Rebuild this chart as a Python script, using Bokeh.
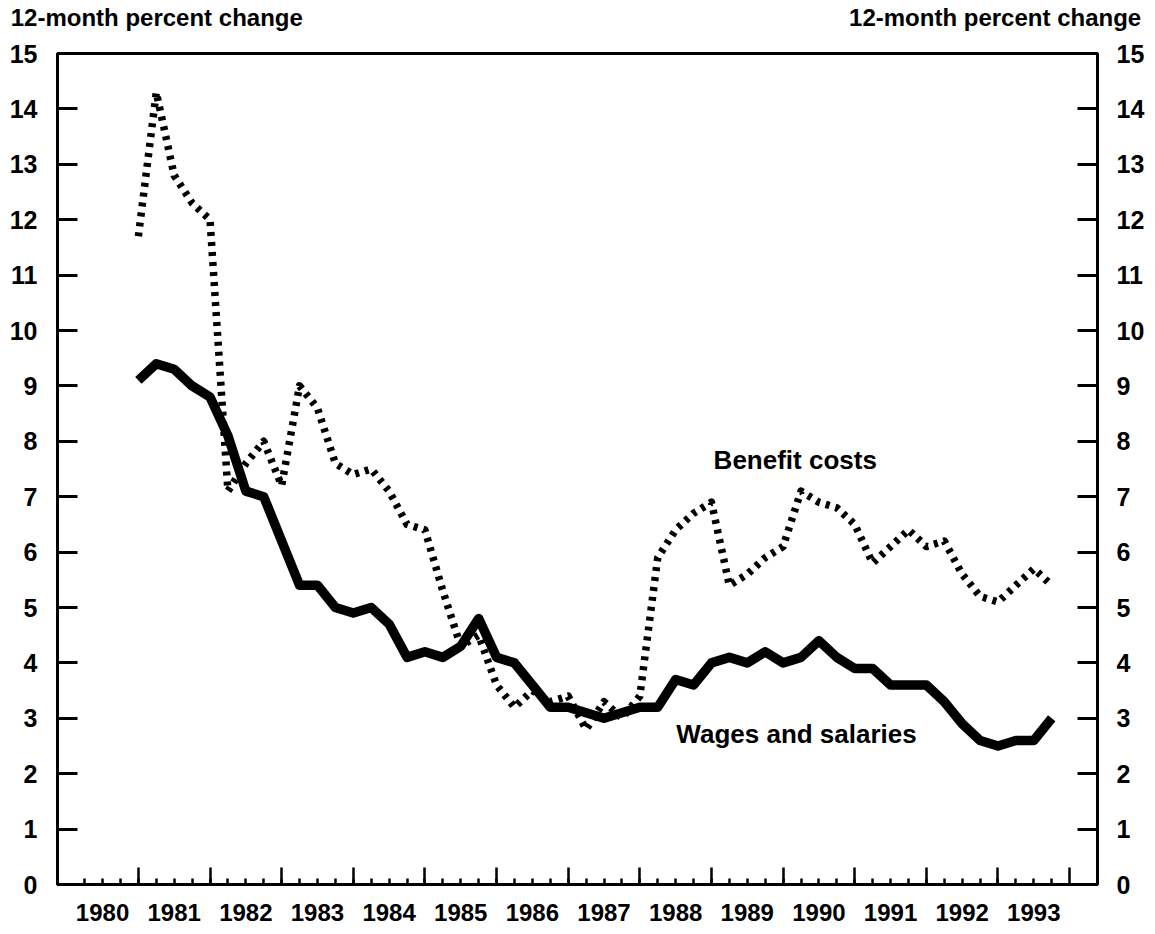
import pandas as pd
from bokeh.plotting import figure
from bokeh.models import (FixedTicker, LinearAxis, Range1d, Label)
from bokeh.embed import file_html
from bokeh.resources import INLINE

# ---- data (12-month percent change, quarterly, Dec 1980 - Sep 1993) ----
periods = pd.period_range("1980Q4", "1993Q3", freq="Q")
wages = [9.1, 9.4, 9.3, 9.0, 8.8, 8.1, 7.1, 7.0, 6.2, 5.4,
         5.4, 5.0, 4.9, 5.0, 4.7, 4.1, 4.2, 4.1, 4.3, 4.8,
         4.1, 4.0, 3.6, 3.2, 3.2, 3.1, 3.0, 3.1, 3.2, 3.2,
         3.7, 3.6, 4.0, 4.1, 4.0, 4.2, 4.0, 4.1, 4.4, 4.1,
         3.9, 3.9, 3.6, 3.6, 3.6, 3.3, 2.9, 2.6, 2.5, 2.6,
         2.6, 3.0]
benefits = [11.7, 14.3, 12.8, 12.3, 12.0, 7.1, 7.6, 8.0, 7.2, 9.0,
            8.6, 7.6, 7.4, 7.5, 7.1, 6.5, 6.4, 5.3, 4.3, 4.5,
            3.6, 3.2, 3.5, 3.3, 3.4, 2.8, 3.3, 3.0, 3.4, 5.9,
            6.4, 6.7, 6.9, 5.4, 5.6, 5.9, 6.1, 7.1, 6.9, 6.8,
            6.5, 5.8, 6.1, 6.4, 6.1, 6.2, 5.6, 5.2, 5.1, 5.4,
            5.7, 5.4]
years = list(range(1980, 1994))
y_ticks = list(range(0, 16))

# quarter-end position on a continuous year axis (Dec 1980 -> 1981.0)
x = [p.year + p.quarter * 0.25 for p in periods]

FONT = "Liberation Sans"
TITLE = "12-month percent change"

p = figure(width=1147, height=926, output_backend="svg", toolbar_location=None,
           x_range=Range1d(1979.871, 1994.389), y_range=Range1d(0, 15),
           min_border_left=57, min_border_right=48, min_border_top=51,
           min_border_bottom=42, y_axis_location=None)
p.xgrid.visible = False
p.ygrid.visible = False
p.outline_line_color = "black"
p.outline_line_width = 3
p.background_fill_color = "white"
p.border_fill_color = "white"

# ---- lines ----
p.line(x, benefits, line_color="black", line_width=7.5, line_dash="4 6",
       line_cap="butt", line_join="round")
p.line(x, wages, line_color="black", line_width=9.5, line_join="round")

# ---- x axis: year-boundary ticks + quarter minor ticks ----
xa = p.xaxis[0]
boundaries = [y + 1 for y in years]
xa.ticker = FixedTicker(ticks=boundaries,
                        minor_ticks=[y + q * 0.25 for y in years for q in (1, 2, 3, 4) if y + q * 0.25 < 1994])
xa.major_label_overrides = {b: "" for b in boundaries}
xa.major_tick_in = 17
xa.major_tick_out = 0
xa.minor_tick_in = 6
xa.minor_tick_out = 0
xa.major_tick_line_width = 2.5
xa.minor_tick_line_width = 2.5
xa.axis_line_width = 3
xa.major_label_text_font_size = "1px"
xa.major_label_standoff = 0

xl = LinearAxis(ticker=FixedTicker(ticks=[y + 0.5 for y in years], minor_ticks=[]),
                major_label_overrides={y + 0.5: str(y) for y in years},
                major_tick_in=0, major_tick_out=0, minor_tick_in=0, minor_tick_out=0,
                axis_line_color=None, major_tick_line_color=None,
                major_label_standoff=19,
                major_label_text_font=FONT, major_label_text_font_style="bold",
                major_label_text_font_size="24px", major_label_text_color="black")
p.add_layout(xl, "below")

# ---- y axes ----
for side, standoff in (("left", 20), ("right", 19)):
    ya = LinearAxis(ticker=FixedTicker(ticks=y_ticks, minor_ticks=[]),
                    major_tick_in=20, major_tick_out=0, minor_tick_in=0, minor_tick_out=0,
                    major_tick_line_width=3, axis_line_width=3,
                    major_label_standoff=standoff,
                    major_label_text_font=FONT, major_label_text_font_style="bold",
                    major_label_text_font_size="25px", major_label_text_color="black")
    p.add_layout(ya, side)

# ---- unit titles above both y axes (top axis carrying only two labels) ----
title_pos = [1981.257, 1992.96]
ta = LinearAxis(ticker=FixedTicker(ticks=title_pos, minor_ticks=[]),
                major_label_overrides={t: TITLE for t in title_pos},
                major_tick_in=0, major_tick_out=0, minor_tick_in=0, minor_tick_out=0,
                axis_line_color=None, major_tick_line_color=None,
                major_label_standoff=23,
                major_label_text_font=FONT, major_label_text_font_style="bold",
                major_label_text_font_size="24px", major_label_text_color="black")
p.add_layout(ta, "above")

# ---- series annotations ----
ann_kw = dict(text_font=FONT, text_font_style="bold", text_font_size="26px",
              text_color="black", text_baseline="alphabetic", text_align="left")
p.add_layout(Label(x=1989.03, y=7.66, text="Benefit costs", **ann_kw))
p.add_layout(Label(x=1988.51, y=2.72, text="Wages and salaries", **ann_kw))

open("out.html", "w").write(file_html(p, INLINE))
